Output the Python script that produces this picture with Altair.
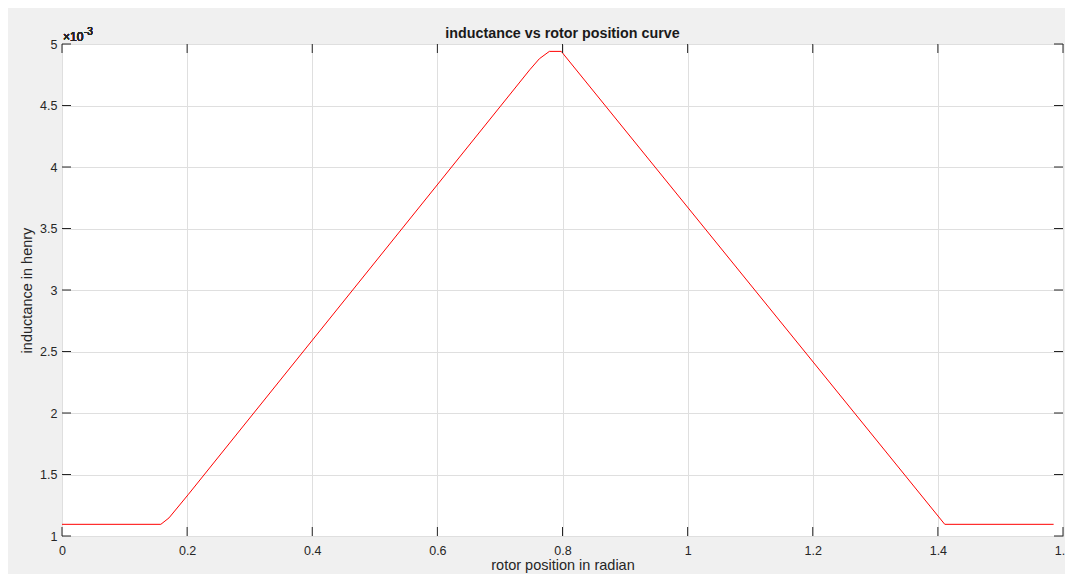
import altair as alt
import pandas as pd

# rotor position (rad) and inductance (x 1e-3 H)
pos = [0.0, 0.158, 0.171, 0.2016, 0.7476, 0.763, 0.779, 0.798, 1.411, 1.585]
ind = [1.095, 1.095, 1.147, 1.336, 4.79, 4.88, 4.94, 4.94, 1.095, 1.095]
xticks = [0, 0.2, 0.4, 0.6, 0.8, 1.0, 1.2, 1.4, 1.6]
yticks = [1, 1.5, 2, 2.5, 3, 3.5, 4, 4.5, 5]

W, H = 1001, 492
FONT = "Liberation Sans"
AX = "#262626"
TL = 9

curve = pd.DataFrame({"x": pos, "y": ind})
xt = pd.DataFrame({"x": xticks})
yt = pd.DataFrame({"y": yticks})

xscale = alt.Scale(domain=[0, 1.6], nice=False, zero=False)
yscale = alt.Scale(domain=[1, 5], nice=False, zero=False)

xaxis = alt.Axis(values=xticks, format="~g", title="rotor position in radian",
                 grid=True, ticks=False, tickSize=0, domain=False,
                 labelFlush=False, labelPadding=14, labelBaseline="middle",
                 titleX=W / 2, titleY=33, titleBaseline="alphabetic", titleAlign="center")
yaxis = alt.Axis(values=yticks, format="~g", title="inductance in henry",
                 grid=True, ticks=False, tickSize=0, domain=False,
                 labelFlush=False, labelPadding=5, labelBaseline="middle",
                 titleX=-35, titleY=H / 2, titleAngle=270, titleBaseline="middle",
                 titleAlign="center")

xe = alt.X("x:Q", scale=xscale, axis=xaxis)
ye = alt.Y("y:Q", scale=yscale, axis=yaxis)

line = alt.Chart(curve).mark_line(color="#ff0000", strokeWidth=1).encode(x=xe, y=ye)

tick_bottom = alt.Chart(xt).mark_rule(color=AX, strokeWidth=1).encode(
    x=xe, y=alt.value(H), y2=alt.value(H - TL))
tick_top = alt.Chart(xt).mark_rule(color=AX, strokeWidth=1).encode(
    x=xe, y=alt.value(0), y2=alt.value(TL))
tick_left = alt.Chart(yt).mark_rule(color=AX, strokeWidth=1).encode(
    y=ye, x=alt.value(0), x2=alt.value(TL))
tick_right = alt.Chart(yt).mark_rule(color=AX, strokeWidth=1).encode(
    y=ye, x=alt.value(W), x2=alt.value(W - TL))

exp_base = alt.Chart(curve).mark_text(
    align="left", baseline="alphabetic", dx=1, dy=-3, fontSize=12, font=FONT, color=AX
).encode(x=alt.datum(0), y=alt.datum(5), text=alt.value("×10"))
exp_sup = alt.Chart(curve).mark_text(
    align="left", baseline="alphabetic", dx=22, dy=-9, fontSize=10, font=FONT, color=AX
).encode(x=alt.datum(0), y=alt.datum(5), text=alt.value("-3"))

chart = alt.layer(line, tick_bottom, tick_top, tick_left, tick_right, exp_base, exp_sup).properties(
    width=W,
    height=H,
    title=alt.TitleParams("inductance vs rotor position curve", fontSize=14.3, fontWeight="bold",
                          font=FONT, color="#1a1a1a", offset=6, frame="group",
                          anchor="middle", dy=20),
    background="#f0f0f0",
    padding={"left": 54, "top": 36, "right": 2, "bottom": 38},
    autosize=alt.AutoSizeParams(type="none"),
).configure_view(fill="white", stroke=AX, strokeWidth=1).configure_axis(
    labelFont=FONT, titleFont=FONT, labelColor=AX, titleColor=AX,
    labelFontSize=12.5, titleFontSize=14.5, titleFontWeight="normal",
    gridColor="#dfdfdf", gridOpacity=1, gridWidth=1,
)

chart.save("out.html", embed_options={"renderer": "svg", "actions": False})
